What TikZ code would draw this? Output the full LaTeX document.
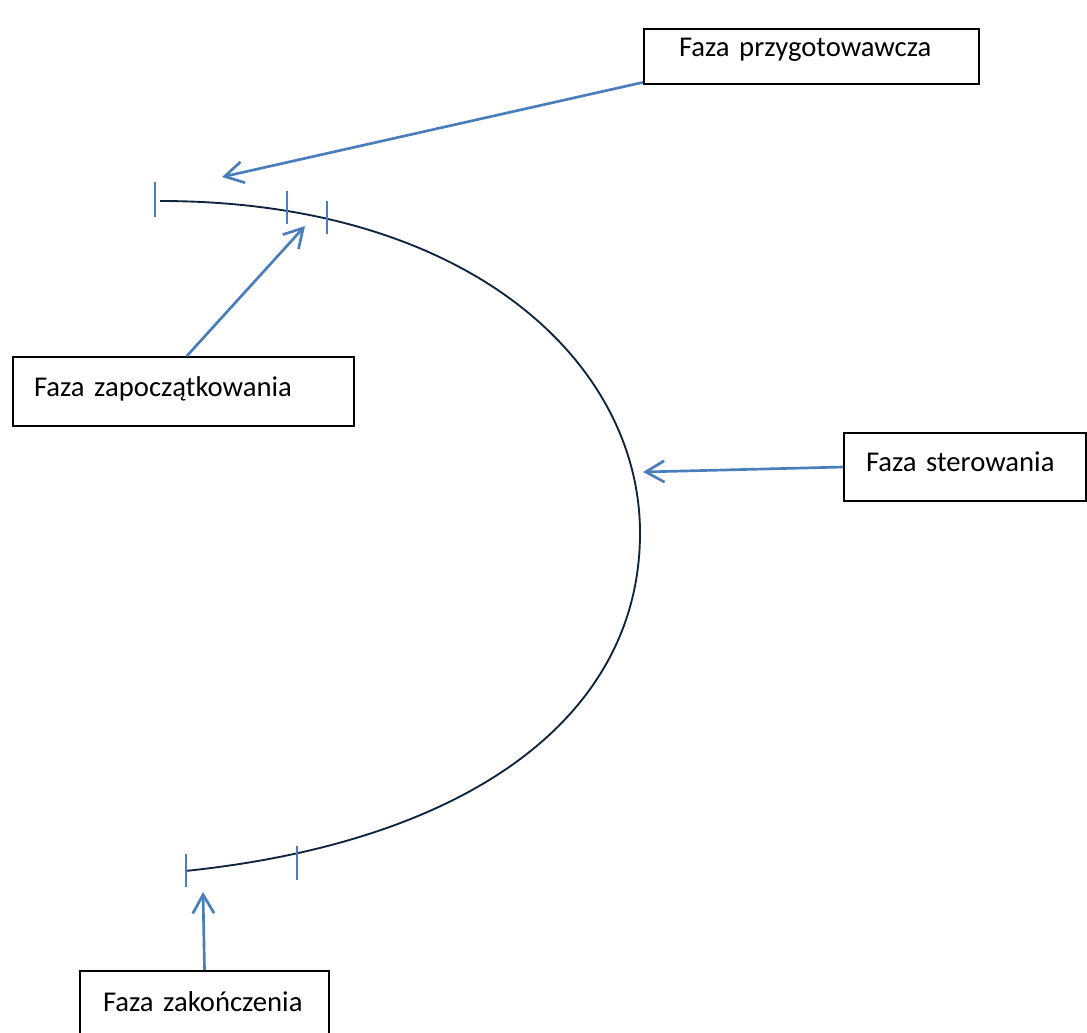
\documentclass[tikz,border=0pt]{standalone}
\usepackage{fontspec}
\setmainfont{Carlito}
\usetikzlibrary{arrows.meta}
\definecolor{arrowblue}{HTML}{4A7EBB}
\definecolor{curvenavy}{HTML}{0F243E}
\tikzset{
  phasebox/.style={draw=black, line width=1.5pt, anchor=north west, inner ysep=0pt, align=left,
    font=\fontsize{21.5pt}{26pt}\selectfont},
  pointer/.style={draw=arrowblue, line width=2pt, -{Straight Barb[length=14pt,width=16pt,line width=2pt]}},
  tickmark/.style={draw=arrowblue, line width=1.8pt},
  phasecurve/.style={draw=curvenavy, line width=1.4pt}
}
\begin{document}
\begin{tikzpicture}[x=0.75pt, y=-0.75pt]
\useasboundingbox (0,0) rectangle (1087,1032);

% curve
\draw[phasecurve] (160,201) .. controls (470,201) and (640,363) .. (640,533)
                            .. controls (640,713) and (475,841) .. (185,871);

% tick marks
\draw[tickmark] (155,182) -- (155,217);
\draw[tickmark] (287,191) -- (287,224);
\draw[tickmark] (327,201) -- (327,234);
\draw[tickmark] (186,854) -- (186,887);
\draw[tickmark] (297,846) -- (297,880);

% boxes
\node[phasebox, minimum width=251.25pt, inner xsep=26.25pt, text width=198.75pt,
      text height=20.25pt, text depth=21pt] (P) at (643,28) {Faza przygotowawcza};
\node[phasebox, minimum width=255.75pt, inner xsep=15.75pt, text width=224.25pt,
      text height=29.25pt, text depth=22.5pt] (Z) at (12,356) {Faza zapoczątkowania};
\node[phasebox, minimum width=181.5pt, inner xsep=16.5pt, text width=148.5pt,
      text height=28.5pt, text depth=22.5pt] (S) at (843,432) {Faza sterowania};
\node[phasebox, minimum width=186.75pt, inner xsep=17.25pt, text width=152.25pt,
      text height=30pt, text depth=22.5pt] (K) at (79,970) {Faza zakończenia};

% arrow targets
\coordinate (tP) at (222,177);
\coordinate (tZ) at (305,226);
\coordinate (tS) at (643,472);
\coordinate (tK) at (203,892);

% pointers
\draw[pointer] ([yshift=2pt]P.south west) -- (tP);
\draw[pointer] ([xshift=2.5pt]Z.north) -- (tZ);
\draw[pointer] (S.west) -- (tS);
\draw[pointer] (K.north) -- (tK);
\end{tikzpicture}
\end{document}
